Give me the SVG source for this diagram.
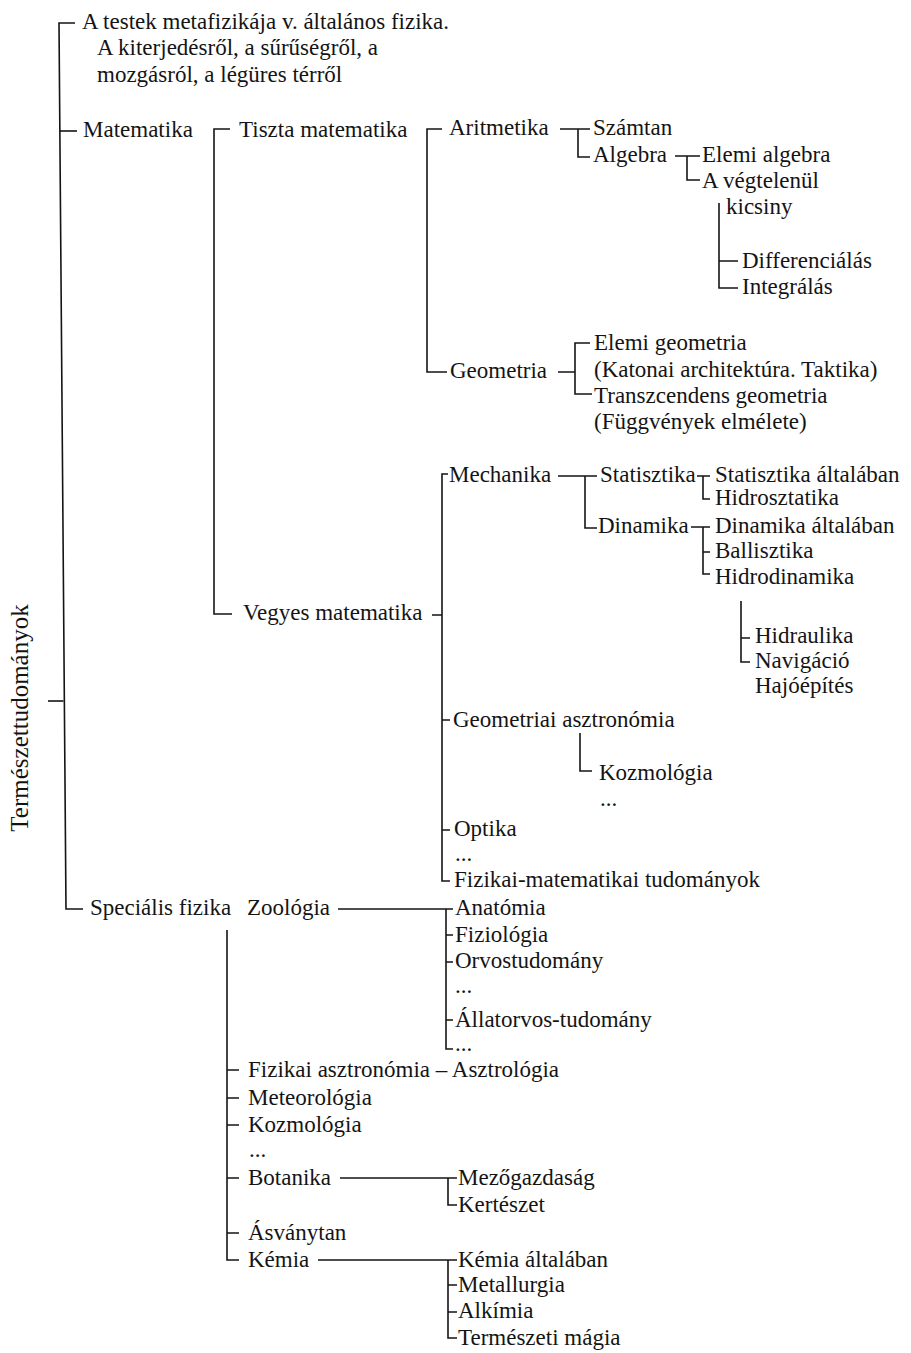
<svg xmlns="http://www.w3.org/2000/svg" width="911" height="1353" viewBox="0 0 911 1353">
  <style>
    text { font-family: "Liberation Serif", "Times New Roman", serif; font-size: 23px; fill: #141414; }
    .title { font-size: 25px; }
    #connectors path { fill: none; stroke: #141414; stroke-width: 1.6; stroke-linecap: butt; stroke-linejoin: miter; }
  </style>
  <rect width="911" height="1353" fill="#ffffff"/>

  <!-- bracket lines of the tree -->
  <g id="connectors">
    <!-- root bracket -->
    <path d="M75,23 H59 L66,909 H83"/>
    <path d="M59.7,131 H77"/>
    <path d="M48,701 H63.5"/>
    <!-- Matematika -->
    <path d="M230,129 H214 V614 H232"/>
    <!-- Tiszta matematika -->
    <path d="M442,129 H427 V372 H447"/>
    <!-- Aritmetika -->
    <path d="M560,129 H590 M578,129 V157 H590"/>
    <!-- Algebra -->
    <path d="M675,156 H700 M687,156 V180 H700"/>
    <!-- A végtelenül kicsiny -->
    <path d="M719,203 V288 H738 M719,261 H738"/>
    <!-- Geometria -->
    <path d="M558,372 H575 M590,343 H575 V394 H592"/>
    <!-- Vegyes matematika -->
    <path d="M432,615 H442 M448,474 H442 V881 H450 M442,720 H450 M442,830 H450"/>
    <!-- Mechanika -->
    <path d="M558,476 H597 M585,476 V528 H597"/>
    <!-- Statisztika -->
    <path d="M697,476 H710 M703,476 V499 H710"/>
    <!-- Dinamika -->
    <path d="M691,527 H710 M703,527 V574 H710 M703,552 H710"/>
    <!-- Hidrodinamika -->
    <path d="M741,601 V662 H750 M741,638 H750"/>
    <!-- Geometriai asztronómia -->
    <path d="M580,733 V771 H592"/>
    <!-- Speciális fizika -->
    <path d="M227,930 V1260 H239 M227,1070 H239 M227,1098 H239 M227,1125 H239 M227,1178 H239 M227,1233 H239"/>
    <!-- Zoológia -->
    <path d="M338,909 H453 M446,909 V1049 H453 M446,935 H453 M446,962 H453 M446,1020 H453"/>
    <!-- Botanika -->
    <path d="M340,1178 H457 M448,1178 V1205 H457"/>
    <!-- Kémia -->
    <path d="M318,1260 H457 M448,1260 V1338 H457 M448,1285 H457 M448,1312 H457"/>
  </g>

  <g id="root"><text class="title" transform="translate(28,718) rotate(-90)" text-anchor="middle">Természettudományok</text></g>

  <g id="metafizika">
    <text x="82" y="29">A testek metafizikája v. általános fizika.</text>
    <text x="97" y="55">A kiterjedésről, a sűrűségről, a</text>
    <text x="97" y="82">mozgásról, a légüres térről</text>
  </g>

  <g id="matematika"><text x="83" y="137">Matematika</text></g>
  <g id="tiszta"><text x="239" y="137">Tiszta matematika</text></g>
  <g id="aritmetika"><text x="449" y="135">Aritmetika</text></g>
  <g id="szamtan"><text x="593" y="135">Számtan</text></g>
  <g id="algebra"><text x="593" y="162">Algebra</text></g>
  <g id="elemi-algebra"><text x="702" y="162">Elemi algebra</text></g>
  <g id="vegtelen">
    <text x="702" y="188">A végtelenül</text>
    <text x="726" y="214">kicsiny</text>
  </g>
  <g id="differencialas"><text x="742" y="268">Differenciálás</text></g>
  <g id="integralas"><text x="742" y="294">Integrálás</text></g>
  <g id="geometria"><text x="450" y="378">Geometria</text></g>
  <g id="elemi-geometria">
    <text x="594" y="350">Elemi geometria</text>
    <text x="594" y="377">(Katonai architektúra. Taktika)</text>
  </g>
  <g id="transzcendens">
    <text x="594" y="403">Transzcendens geometria</text>
    <text x="594" y="429">(Függvények elmélete)</text>
  </g>

  <g id="vegyes"><text x="243" y="620">Vegyes matematika</text></g>
  <g id="mechanika"><text x="449" y="482">Mechanika</text></g>
  <g id="statisztika"><text x="600" y="482">Statisztika</text></g>
  <g id="statisztika-altalaban"><text x="715" y="482">Statisztika általában</text></g>
  <g id="hidrosztatika"><text x="715" y="505">Hidrosztatika</text></g>
  <g id="dinamika"><text x="598" y="533">Dinamika</text></g>
  <g id="dinamika-altalaban"><text x="715" y="533">Dinamika általában</text></g>
  <g id="ballisztika"><text x="715" y="558">Ballisztika</text></g>
  <g id="hidrodinamika"><text x="715" y="584">Hidrodinamika</text></g>
  <g id="hidraulika"><text x="755" y="643">Hidraulika</text></g>
  <g id="navigacio">
    <text x="755" y="668">Navigáció</text>
    <text x="755" y="693">Hajóépítés</text>
  </g>
  <g id="geom-asztronomia"><text x="453" y="727">Geometriai asztronómia</text></g>
  <g id="kozmologia-1">
    <text x="599" y="780">Kozmológia</text>
    <text x="600" y="806">...</text>
  </g>
  <g id="optika">
    <text x="454" y="836">Optika</text>
    <text x="455" y="861">...</text>
  </g>
  <g id="fiz-mat"><text x="454" y="887">Fizikai-matematikai tudományok</text></g>

  <g id="specialis"><text x="90" y="915">Speciális fizika</text></g>
  <g id="zoologia"><text x="247" y="915">Zoológia</text></g>
  <g id="anatomia"><text x="455" y="915">Anatómia</text></g>
  <g id="fiziologia"><text x="455" y="942">Fiziológia</text></g>
  <g id="orvostudomany">
    <text x="455" y="968">Orvostudomány</text>
    <text x="455" y="993">...</text>
  </g>
  <g id="allatorvos"><text x="455" y="1027">Állatorvos-tudomány</text></g>
  <g id="zoologia-more"><text x="455" y="1051">...</text></g>
  <g id="fiz-asztronomia"><text x="248" y="1077">Fizikai asztronómia – Asztrológia</text></g>
  <g id="meteorologia"><text x="248" y="1105">Meteorológia</text></g>
  <g id="kozmologia-2">
    <text x="248" y="1132">Kozmológia</text>
    <text x="249" y="1157">...</text>
  </g>
  <g id="botanika"><text x="248" y="1185">Botanika</text></g>
  <g id="mezogazdasag"><text x="458" y="1185">Mezőgazdaság</text></g>
  <g id="kerteszet"><text x="458" y="1212">Kertészet</text></g>
  <g id="asvanytan"><text x="248" y="1240">Ásványtan</text></g>
  <g id="kemia"><text x="248" y="1267">Kémia</text></g>
  <g id="kemia-altalaban"><text x="458" y="1267">Kémia általában</text></g>
  <g id="metallurgia"><text x="458" y="1292">Metallurgia</text></g>
  <g id="alkimia"><text x="458" y="1318">Alkímia</text></g>
  <g id="termeszeti-magia"><text x="458" y="1345">Természeti mágia</text></g>
</svg>
